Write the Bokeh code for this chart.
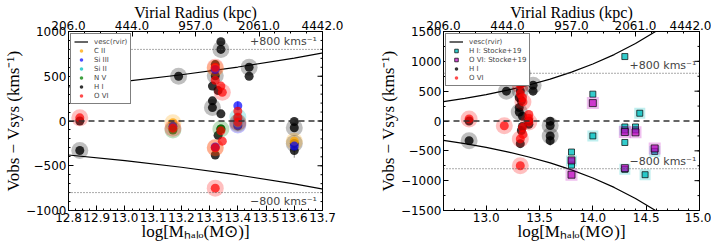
import math
from bokeh.plotting import figure
from bokeh.models import (Range1d, LinearAxis, FixedTicker, Span, Label, Legend,
                          LegendItem)
from bokeh.layouts import row
from bokeh.embed import file_html
from bokeh.resources import INLINE

# ---------------- data ----------------
# escape-velocity curve v_esc(r_vir) vs log halo mass
VESC_M = [12.6, 12.8, 13.0, 13.2, 13.4, 13.6, 13.8, 14.0, 14.2, 14.4, 14.6, 14.7]
VESC_V = [326, 380, 443, 517, 603, 703, 819, 955, 1113, 1298, 1513, 1634]

# top axis (virial radius) labels
RVIR_LABELS = ["206.0", "444.0", "957.0", "2061.0", "4442.0"]

LEFT_XTICKS = [12.8, 12.9, 13.0, 13.1, 13.2, 13.3, 13.4, 13.5, 13.6, 13.7]
LEFT_YTICKS = [-1000, -500, 0, 500, 1000]
RIGHT_XTICKS = [13.0, 13.5, 14.0, 14.5, 15.0]
RIGHT_YTICKS = [-1500, -1000, -500, 0, 500, 1000, 1500]

# C II
CII_M = [13.17, 13.32, 13.32, 13.40, 13.60]
CII_V = [-20, 590, -300, -30, -225]
CII_H = [1, 1, 1, 1, 1]
# Si III
SIIII_M = [13.17, 13.32, 13.40, 13.40, 13.32, 13.60]
SIIII_V = [-60, 575, 170, -45, -290, -280]
SIIII_H = [0, 0, 0, 1, 0, 0]
SIIII_E = [0, 0, 50, 0, 0, 0]
# Si II
SIII_M = [13.40, 13.40]
SIII_V = [45, -20]
SIII_H = [1, 1]
# N V
NV_M = [13.17, 13.34]
NV_V = [-100, -90]
NV_H = [1, 1]
# H I
HI_M = [12.84, 12.84, 13.19, 13.34, 13.34, 13.32, 13.32, 13.31, 13.33, 13.31, 13.31,
        13.34, 13.40, 13.40, 13.44, 13.44, 13.34, 13.33, 13.32, 13.60, 13.60, 13.60, 13.60]
HI_V = [0, -330, 500, 885, 800, 630, 505, 390, 340, 225, 150,
        80, 0, -55, 600, 500, -90, -160, -380, -5, -75, -250, -330]
HI_H = [0, 1, 1, 0, 1, 0, 1, 0, 0, 0, 1,
        0, 0, 0, 1, 0, 0, 0, 0, 0, 1, 1, 0]
HI_E = [0, 0, 0, 0, 0, 0, 0, 0, 0, 0, 0,
        0, 0, 0, 0, 0, 0, 0, 0, 0, 0, 0, 80]
# O VI
OVI_M = [12.84, 13.17, 13.32, 13.32, 13.34, 13.345, 13.40, 13.40, 13.40, 13.34, 13.345, 13.32, 13.32]
OVI_V = [35, -80, 600, 455, 390, 320, 110, 40, -15, -110, -225, -300, -750]
OVI_H = [1, 1, 1, 0, 0, 1, 0, 0, 1, 0, 0, 1, 1]
# H I : Stocke+19
HIS_M = [14.30, 14.00, 14.44, 14.00, 14.30, 14.30, 14.30, 14.40, 14.40, 14.58, 14.30, 14.49, 13.80, 13.80, 13.80]
HIS_V = [1080, 450, 130, -250, -100, -150, -360, -100, -150, -510, -810, -900, -520, -670, -740]
HIS_H = [0, 0, 1, 1, 0, 1, 0, 0, 0, 1, 1, 1, 0, 1, 0]
# O VI : Stocke+19
OVIS_M = [14.00, 14.30, 14.40, 14.58, 14.30, 13.80, 13.80]
OVIS_V = [300, -185, -190, -460, -790, -660, -900]
OVIS_H = [1, 1, 1, 1, 0, 0, 1]

# ---------------- styling ----------------
ORANGE = "#FFA500"
BLUE = "#0000FF"
CYAN = "#00BFBF"
GREEN = "#008000"
BLACK = "#000000"
RED = "#FF0000"
MAG = "#BF00BF"

SERIF = "Liberation Serif"
SANS = "DejaVu Sans"
TICK_FS = "12px"


def fmt_num(t, nd):
    s = f"{t:.{nd}f}"
    return s.replace("-", "−")


def style_axis(ax, ticks, minor, nd):
    ax.ticker = FixedTicker(ticks=ticks, minor_ticks=minor)
    ax.major_label_overrides = {t: fmt_num(t, nd) for t in ticks}
    ax.major_tick_in = 5
    ax.major_tick_out = 0
    ax.minor_tick_in = 2
    ax.minor_tick_out = 0
    ax.axis_line_color = "black"
    ax.major_tick_line_color = "black"
    ax.minor_tick_line_color = "black"
    ax.major_label_text_font = SANS
    ax.major_label_text_font_size = TICK_FS
    ax.major_label_text_color = "black"
    ax.major_label_standoff = 2
    ax.axis_label_text_font = SERIF
    ax.axis_label_text_font_style = "normal"
    ax.axis_label_text_font_size = "17px"
    ax.axis_label_text_color = "black"
    ax.axis_label_standoff = -3


def frange(a, b, step):
    n = int(round((b - a) / step))
    return [round(a + i * step, 4) for i in range(n + 1)]


def make_fig(xr, yr, xticks, xminor, yticks, yminor, width, mbl, mbr):
    p = figure(width=width, height=243, x_range=Range1d(*xr), y_range=Range1d(*yr),
               output_backend="svg", toolbar_location=None,
               min_border_left=mbl, min_border_right=mbr,
               min_border_top=10, min_border_bottom=10)
    p.xgrid.visible = False
    p.ygrid.visible = False
    p.outline_line_color = "black"
    p.outline_line_width = 1
    p.background_fill_color = "white"
    p.border_fill_color = "white"
    style_axis(p.xaxis[0], xticks, xminor, 1)
    style_axis(p.yaxis[0], yticks, yminor, 0)
    p.yaxis[0].axis_label_standoff = 0
    p.xaxis[0].axis_label = "log[Mₕₐₗₒ(M⊙)]"
    p.yaxis[0].axis_label = "Vobs − Vsys (kms⁻¹)"
    # top axis : virial radius (evenly spaced labels)
    n = len(RVIR_LABELS)
    p.extra_x_ranges = {"rvir": Range1d(0, n - 1)}
    top = LinearAxis(x_range_name="rvir", axis_label="Virial Radius (kpc)")
    style_axis(top, list(range(n)), [i * 0.25 for i in range(4 * (n - 1) + 1)], 0)
    top.major_label_overrides = {i: s for i, s in enumerate(RVIR_LABELS)}
    top.axis_label_text_font_size = "16px"
    p.add_layout(top, "above")
    # mirrored ticks on the right edge (no labels)
    p.ray(x=[xr[1]] * len(yticks), y=yticks, length=5, length_units="screen",
          angle=math.pi, line_color="black", line_width=1)
    p.ray(x=[xr[1]] * len(yminor), y=yminor, length=2, length_units="screen",
          angle=math.pi, line_color="black", line_width=1)
    # reference lines
    p.add_layout(Span(location=0, dimension="width", line_color="#333333",
                      line_dash="6 4", line_width=1.3))
    for loc in (800, -800):
        p.add_layout(Span(location=loc, dimension="width", line_color="#555555",
                          line_dash="1 2", line_width=1))
    return p


def points(p, m, v, h, color, marker="circle", size=9, hsize=17, alpha=0.75,
           line_color=None):
    hm = [a for a, f in zip(m, h) if f]
    hv = [b for b, f in zip(v, h) if f]
    p.scatter(hm, hv, marker=marker, size=hsize, fill_color=color, fill_alpha=0.25,
              line_color=None)
    return p.scatter(m, v, marker=marker, size=size, fill_color=color, fill_alpha=alpha,
                     line_color=line_color if line_color else None, line_width=0.7)


def errbars(p, m, v, e, color):
    xs = [a for a, d in zip(m, e) if d]
    y0 = [b - d for b, d in zip(v, e) if d]
    y1 = [b + d for b, d in zip(v, e) if d]
    p.segment(xs, y0, xs, y1, line_color=color, line_width=1, line_alpha=0.7)


def legend(p, items, font="7px"):
    lg = Legend(items=items, location="top_left", label_text_font=SANS,
                label_text_font_size=font, glyph_height=9, glyph_width=14,
                label_height=9, spacing=0, padding=3, margin=2,
                border_line_color="black", border_line_width=1,
                background_fill_alpha=1.0, label_standoff=6)
    p.add_layout(lg)


# ---------------- left panel ----------------
p1 = make_fig((12.8, 13.7), (-1000, 1000), LEFT_XTICKS,
              frange(12.8, 13.7, 0.025), LEFT_YTICKS, frange(-1000, 1000, 100),
              width=375, mbl=55, mbr=53)
ln1 = p1.line(VESC_M, VESC_V, line_color="black", line_width=1.2)
p1.line(VESC_M, [-v for v in VESC_V], line_color="black", line_width=1.2)
errbars(p1, HI_M, HI_V, HI_E, "#555555")
errbars(p1, SIIII_M, SIIII_V, SIIII_E, BLUE)
r_hi = points(p1, HI_M, HI_V, HI_H, BLACK, alpha=0.8)
r_c2 = points(p1, CII_M, CII_V, CII_H, ORANGE)
r_s3 = points(p1, SIIII_M, SIIII_V, SIIII_H, BLUE, alpha=0.7)
r_s2 = points(p1, SIII_M, SIII_V, SIII_H, CYAN)
r_n5 = points(p1, NV_M, NV_V, NV_H, GREEN)
r_o6 = points(p1, OVI_M, OVI_V, OVI_H, RED, alpha=0.7)
p1.add_layout(Label(x=13.68, y=800, text="+800 kms⁻¹", text_align="right",
                    text_baseline="bottom", y_offset=1, text_font=SANS,
                    text_font_size="11px"))
p1.add_layout(Label(x=13.68, y=-800, text="−800 kms⁻¹", text_align="right",
                    text_baseline="top", y_offset=-2, text_font=SANS,
                    text_font_size="11px"))
legend(p1, [LegendItem(label="vesc(rvir)", renderers=[ln1]),
            LegendItem(label="C II", renderers=[r_c2]),
            LegendItem(label="Si III", renderers=[r_s3]),
            LegendItem(label="Si II", renderers=[r_s2]),
            LegendItem(label="N V", renderers=[r_n5]),
            LegendItem(label="H I", renderers=[r_hi]),
            LegendItem(label="O VI", renderers=[r_o6])])

# ---------------- right panel ----------------
p2 = make_fig((12.6, 15.0), (-1500, 1500), RIGHT_XTICKS,
              frange(12.6, 15.0, 0.1), RIGHT_YTICKS, frange(-1500, 1500, 250),
              width=336, mbl=62, mbr=12)
ln2 = p2.line(VESC_M, VESC_V, line_color="black", line_width=1.2)
p2.line(VESC_M, [-v for v in VESC_V], line_color="black", line_width=1.2)
errbars(p2, HI_M, HI_V, HI_E, "#555555")
r2_hi = points(p2, HI_M, HI_V, HI_H, BLACK, alpha=0.8)
r2_o6 = points(p2, OVI_M, OVI_V, OVI_H, RED, alpha=0.7)
r2_his = points(p2, HIS_M, HIS_V, HIS_H, CYAN, marker="square", size=6, hsize=11,
                alpha=0.8, line_color="black")
r2_ovs = points(p2, OVIS_M, OVIS_V, OVIS_H, MAG, marker="square", size=7, hsize=12,
                alpha=0.7, line_color="black")
p2.add_layout(Label(x=14.97, y=800, text="+800 kms⁻¹", text_align="right",
                    text_baseline="bottom", y_offset=1, text_font=SANS,
                    text_font_size="11px"))
p2.add_layout(Label(x=14.97, y=-800, text="−800 kms⁻¹", text_align="right",
                    text_baseline="bottom", y_offset=1, text_font=SANS,
                    text_font_size="11px"))
legend(p2, [LegendItem(label="vesc(rvir)", renderers=[ln2]),
            LegendItem(label="H I: Stocke+19", renderers=[r2_his]),
            LegendItem(label="O VI: Stocke+19", renderers=[r2_ovs]),
            LegendItem(label="H I", renderers=[r2_hi]),
            LegendItem(label="O VI", renderers=[r2_o6])])

layout = row(p1, p2)
open("out.html", "w").write(file_html(layout, INLINE))
